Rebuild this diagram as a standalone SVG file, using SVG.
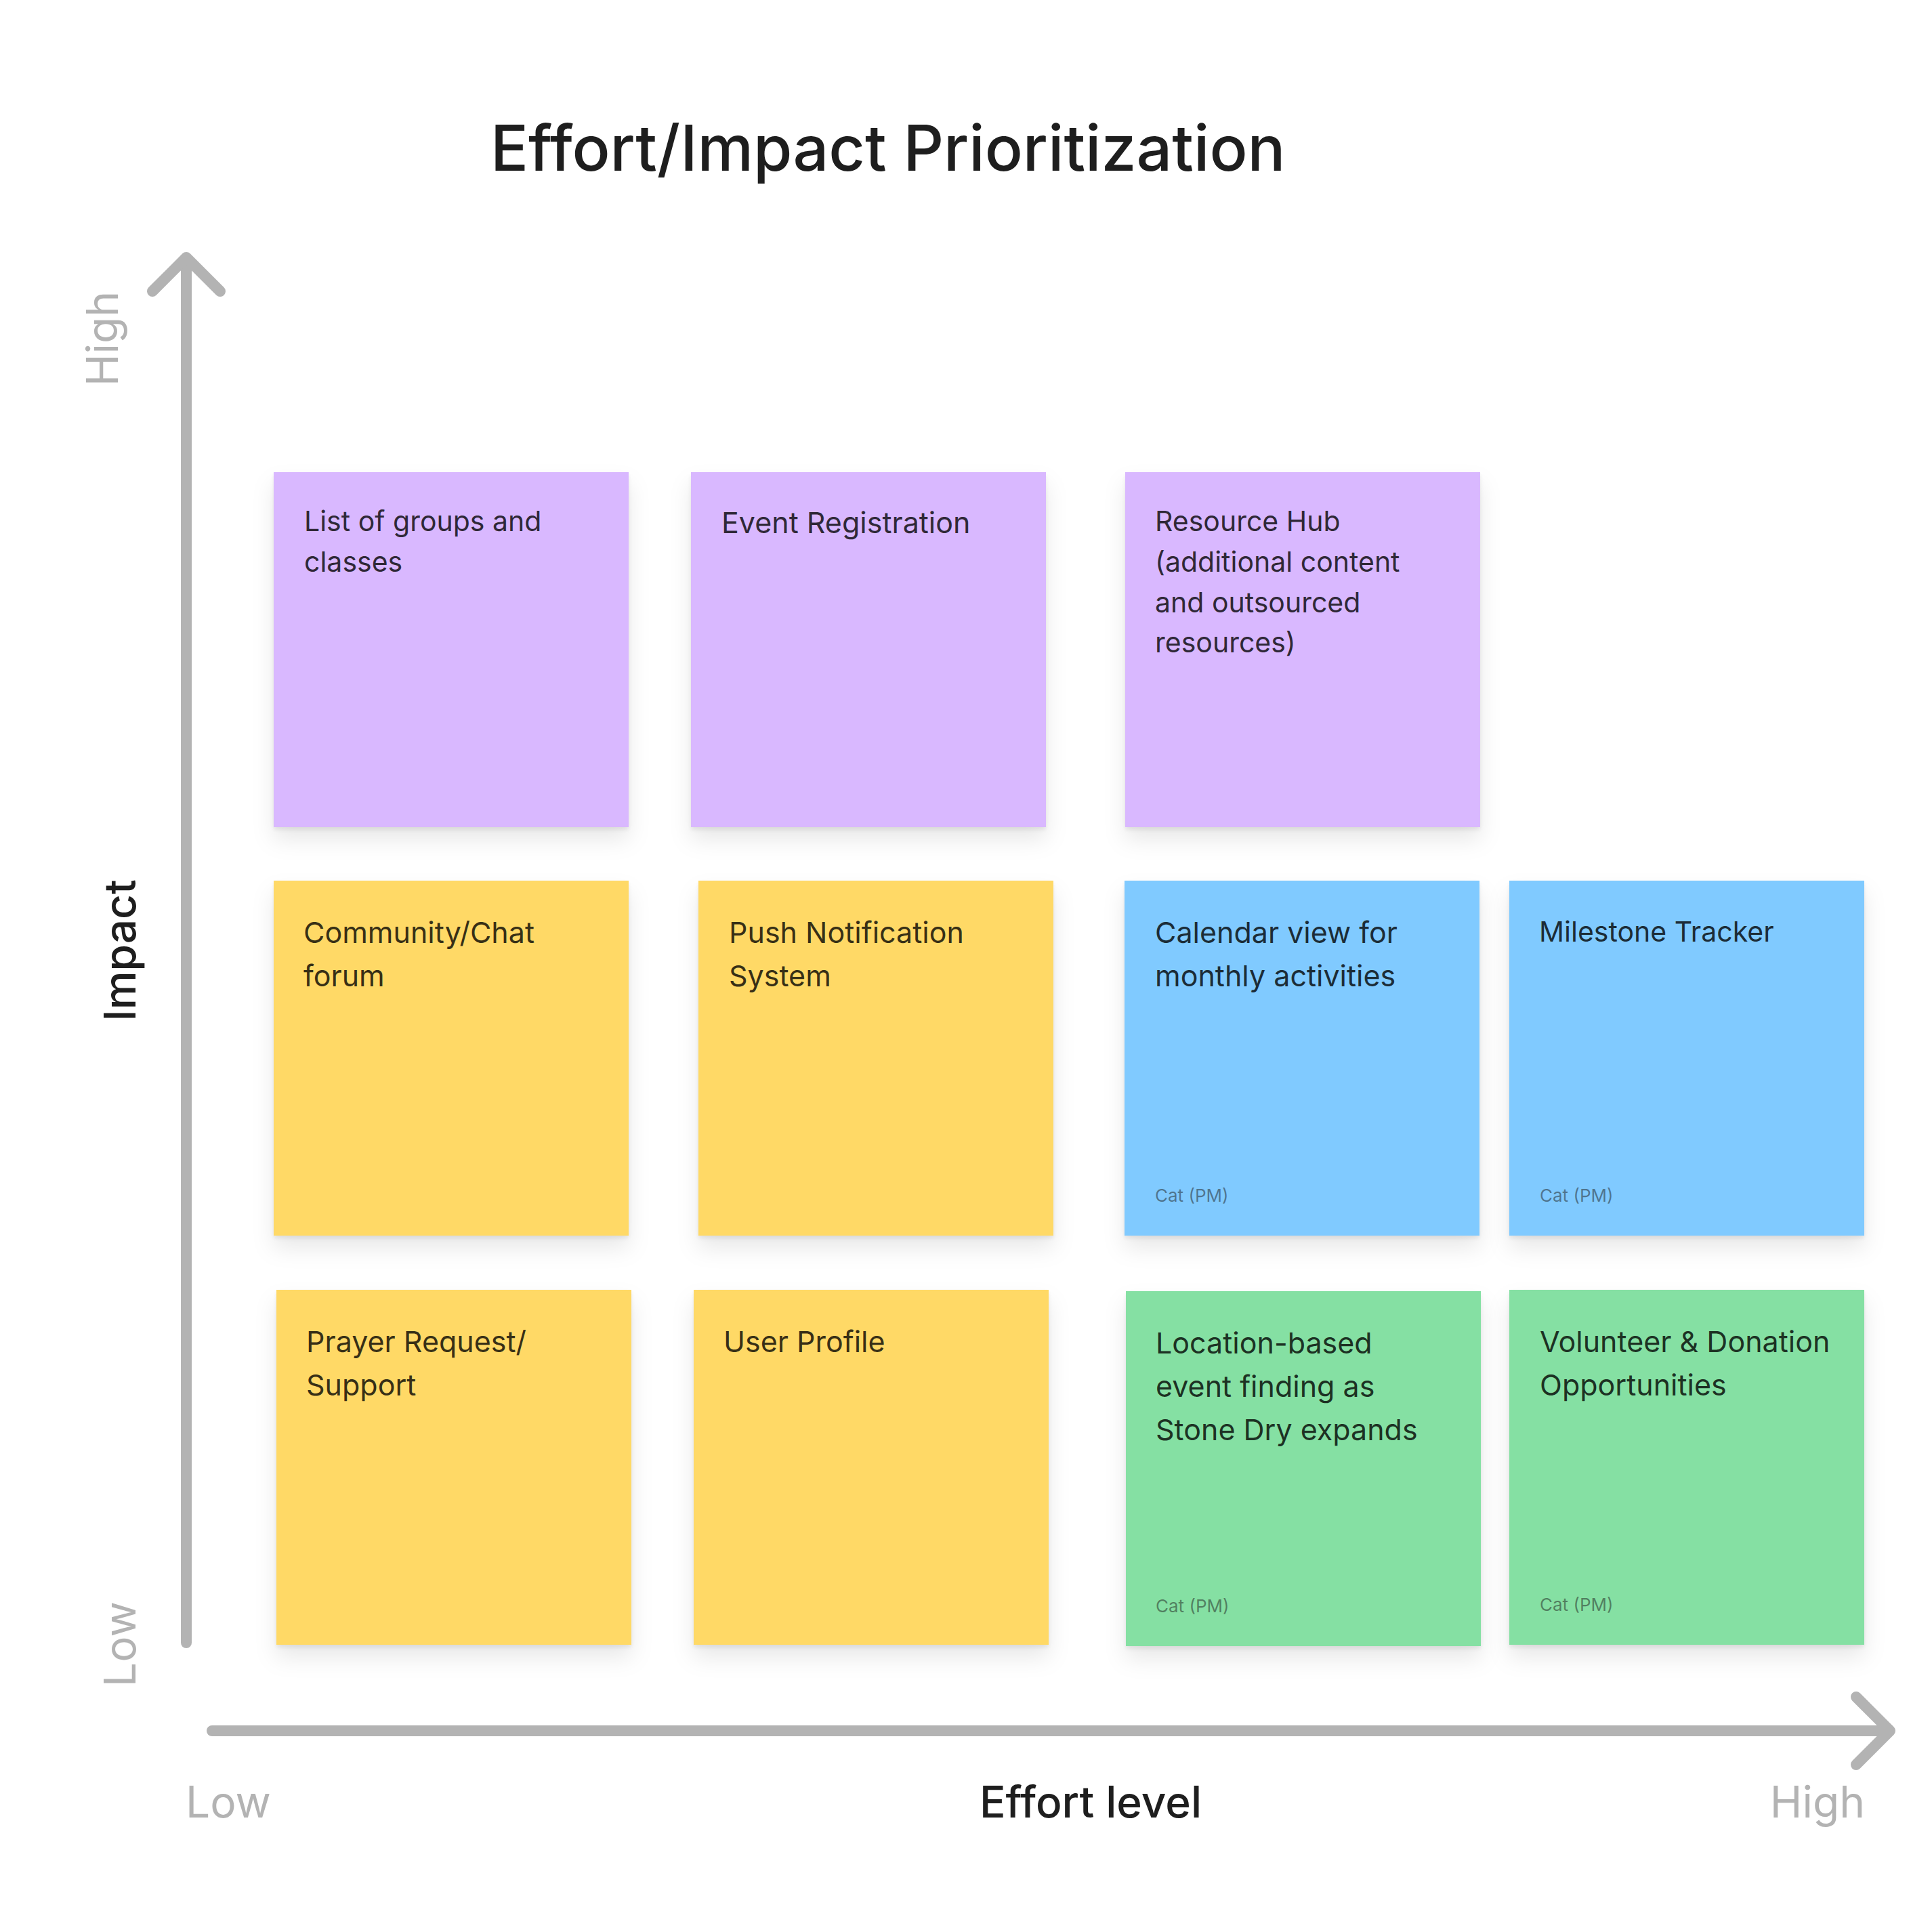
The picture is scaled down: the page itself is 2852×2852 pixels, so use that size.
<svg xmlns="http://www.w3.org/2000/svg" width="2852" height="2852" viewBox="0 0 2852 2852">
<style>
.title{font-family:Inter,"Noto Sans",sans-serif;font-size:93px;font-weight:500;fill:#1e1e1e}
.axis{font-family:Inter,"Noto Sans",sans-serif;font-size:64px;font-weight:500;fill:#1e1e1e}
.lvl{font-family:Inter,"Noto Sans",sans-serif;font-size:64px;font-weight:400;fill:#b3b3b3}
.t{font-family:Inter,"Noto Sans",sans-serif;font-size:43px;font-weight:400;fill:#000;fill-opacity:0.8}
.s{font-size:41px}
.cat{font-family:Inter,"Noto Sans",sans-serif;font-size:26px;font-weight:400;fill:#1e1e1e;fill-opacity:0.5}
.ax{stroke:#b3b3b3;stroke-width:16;stroke-linecap:round;stroke-linejoin:round;fill:none}
.purple{fill:#d9b8ff}.yellow{fill:#ffd966}.blue{fill:#80caff}.green{fill:#85e0a3}
</style>
<defs>
<filter id="sh" x="-20%" y="-20%" width="140%" height="150%">
<feDropShadow dx="0" dy="4" stdDeviation="3" flood-color="#000" flood-opacity="0.08"/>
<feDropShadow dx="0" dy="18" stdDeviation="16" flood-color="#000" flood-opacity="0.09"/>
</filter>
</defs>
<rect width="2852" height="2852" fill="#fff"/>
<text class="title" x="724" y="252">Effort/Impact Prioritization</text>
<g id="axes">
<path class="ax" d="M275 2425 L275 382"/>
<path class="ax" d="M225 430 L275 380 L325 430"/>
<path class="ax" d="M313 2555 L2788 2555"/>
<path class="ax" d="M2740 2505 L2790 2555 L2740 2605"/>
</g>
<text class="lvl" transform="translate(174,500) rotate(-90)" text-anchor="middle">High</text>
<text class="lvl" transform="translate(200,2427) rotate(-90)" text-anchor="middle">Low</text>
<text class="axis" transform="translate(200,1403) rotate(-90)" text-anchor="middle">Impact</text>
<text class="axis" x="1610" y="2683" text-anchor="middle">Effort level</text>
<text class="lvl" x="274" y="2683">Low</text>
<text class="lvl" x="2753" y="2683" text-anchor="end">High</text>

<g id="n1"><rect class="purple" x="404" y="697" width="524" height="524" filter="url(#sh)"/>
<text class="t s" x="449" y="784">List of groups and</text><text class="t s" x="449" y="844">classes</text></g>
<g id="n2"><rect class="purple" x="1020" y="697" width="524" height="524" filter="url(#sh)"/>
<text class="t" x="1065" y="787">Event Registration</text></g>
<g id="n3"><rect class="purple" x="1661" y="697" width="524" height="524" filter="url(#sh)"/>
<text class="t s" x="1705" y="784">Resource Hub</text><text class="t s" x="1705" y="844">(additional content</text><text class="t s" x="1705" y="904">and outsourced</text><text class="t s" x="1705" y="963">resources)</text></g>

<g id="n4"><rect class="yellow" x="404" y="1300" width="524" height="524" filter="url(#sh)"/>
<text class="t" x="448" y="1392">Community/Chat</text><text class="t" x="448" y="1456">forum</text></g>
<g id="n5"><rect class="yellow" x="1031" y="1300" width="524" height="524" filter="url(#sh)"/>
<text class="t" x="1076" y="1392">Push Notification</text><text class="t" x="1076" y="1456">System</text></g>
<g id="n6"><rect class="blue" x="1660" y="1300" width="524" height="524" filter="url(#sh)"/>
<text class="t" x="1705" y="1392">Calendar view for</text><text class="t" x="1705" y="1456">monthly activities</text>
<text class="cat" x="1705" y="1774">Cat (PM)</text></g>
<g id="n7"><rect class="blue" x="2228" y="1300" width="524" height="524" filter="url(#sh)"/>
<text class="t s" x="2272" y="1390">Milestone Tracker</text>
<text class="cat" x="2273" y="1774">Cat (PM)</text></g>

<g id="n8"><rect class="yellow" x="408" y="1904" width="524" height="524" filter="url(#sh)"/>
<text class="t" x="452" y="1996">Prayer Request/</text><text class="t" x="452" y="2060">Support</text></g>
<g id="n9"><rect class="yellow" x="1024" y="1904" width="524" height="524" filter="url(#sh)"/>
<text class="t" x="1068" y="1996">User Profile</text></g>
<g id="n10"><rect class="green" x="1662" y="1906" width="524" height="524" filter="url(#sh)"/>
<text class="t" x="1706" y="1998">Location-based</text><text class="t" x="1706" y="2062">event finding as</text><text class="t" x="1706" y="2126">Stone Dry expands</text>
<text class="cat" x="1706" y="2380">Cat (PM)</text></g>
<g id="n11"><rect class="green" x="2228" y="1904" width="524" height="524" filter="url(#sh)"/>
<text class="t" x="2273" y="1996">Volunteer &amp; Donation</text><text class="t" x="2273" y="2060">Opportunities</text>
<text class="cat" x="2273" y="2378">Cat (PM)</text></g>
</svg>
